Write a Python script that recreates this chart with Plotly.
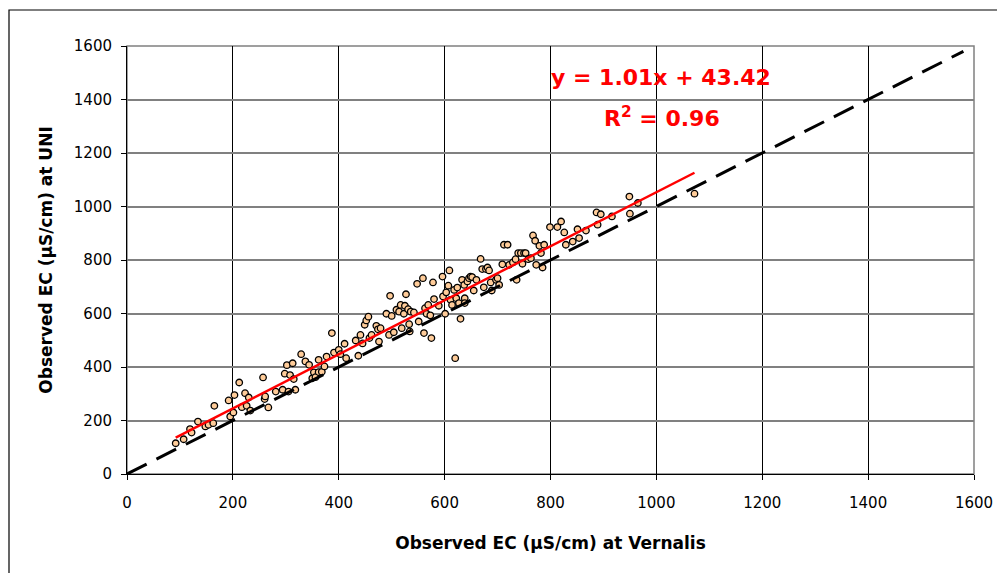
import plotly.graph_objects as go

# Observed EC at Vernalis (x) vs. UNI (y), µS/cm
ec_vernalis = [92,107,119,122,134,148,154,163,165,192,
               195,201,203,212,217,223,226,230,233,257,
               260,261,267,281,294,298,302,305,308,313,
               315,318,329,337,344,350,353,356,362,362,
               368,373,377,387,391,400,403,411,414,432,
               437,441,445,449,452,456,458,462,471,474,
               476,479,490,495,497,500,504,509,514,517,
               519,523,525,527,531,533,534,536,542,548,
               551,559,561,563,566,569,573,575,578,580,
               589,596,597,601,603,607,609,611,614,618,
               620,622,624,627,630,633,637,638,638,643,
               646,649,652,655,660,668,671,674,678,681,
               684,687,689,697,700,703,709,712,719,722,
               729,734,736,739,744,747,750,753,758,763,
               767,771,773,779,782,785,788,799,813,820,
               826,829,842,851,854,867,887,889,895,916,
               949,950,965,1072]
ec_uni = [115,130,168,155,196,178,184,190,255,275,
          215,230,295,342,250,302,255,286,237,361,
          280,290,249,308,315,375,407,308,370,414,
          355,315,448,421,408,358,380,362,427,381,
          382,402,439,527,454,464,448,487,433,499,
          442,520,488,558,574,588,508,520,554,541,
          495,545,599,520,666,591,530,614,607,632,
          545,599,629,672,616,560,533,607,604,711,
          570,732,527,620,599,632,593,508,716,654,
          629,738,664,599,679,704,761,651,632,688,
          433,657,697,639,580,726,707,657,639,720,
          732,738,736,686,726,804,766,698,766,772,
          761,716,686,726,732,707,784,857,857,782,
          791,803,726,826,826,786,826,826,803,807,
          892,872,782,853,826,772,857,923,923,944,
          903,857,869,915,882,910,978,932,971,963,
          1037,973,1013,1048]

# Linear trend (as reported on chart)
trend_slope = 1.01
trend_intercept = 43.42
trend_r2 = 0.96

# 1:1 reference line extent
one_to_one = [0, 1580]

tick_vals = [0, 200, 400, 600, 800, 1000, 1200, 1400, 1600]

x_min, x_max = min(ec_vernalis), max(ec_vernalis)
trend_x = [x_min, x_max]
trend_y = [trend_slope * v + trend_intercept for v in trend_x]

FONT = "DejaVu Sans, Verdana, sans-serif"

# page body has an 8px default margin; the figure is sized to fit the window
PX0, PY0 = 127, 474      # plot-area origin in window pixels
PW, PH = 847, 428        # plot-area size


def px(xp):
    return (xp - PX0) / PW


def py(yp):
    return (PY0 - yp) / PH


fig = go.Figure()
fig.add_trace(go.Scatter(
    x=ec_vernalis, y=ec_uni, mode="markers",
    marker=dict(size=6.5, color="#FFCC99", line=dict(color="black", width=1.3)),
    showlegend=False, cliponaxis=False))
fig.add_trace(go.Scatter(
    x=one_to_one, y=one_to_one, mode="lines",
    line=dict(color="black", width=3, dash="22px,11px"),
    showlegend=False))
fig.add_trace(go.Scatter(
    x=trend_x, y=trend_y, mode="lines",
    line=dict(color="#FF0000", width=2.5),
    showlegend=False))

axis_common = dict(
    range=[0, 1600], tickvals=tick_vals, ticks="outside", ticklen=5,
    tickcolor="black", tickwidth=1, showline=True, linecolor="black",
    linewidth=1, zeroline=False,
    tickfont=dict(family=FONT, size=15, color="black"),
)

fig.update_layout(
    width=997, height=565,
    margin=dict(l=119, r=31, t=38, b=99),
    paper_bgcolor="white", plot_bgcolor="white",
    xaxis=dict(**axis_common, showgrid=True, gridcolor="black", gridwidth=1,
               ticklabelstandoff=10,
               title=dict(text="<b>Observed EC (µS/cm) at Vernalis</b>",
                          font=dict(family=FONT, size=17, color="black"),
                          standoff=26)),
    yaxis=dict(**axis_common, showgrid=True, gridcolor="#808080", gridwidth=1.5,
               ticklabelstandoff=6,
               title=dict(text="<b>Observed EC (µS/cm) at UNI</b>",
                          font=dict(family=FONT, size=17, color="black"),
                          standoff=16)),
    shapes=[
        # plot-area border (gray)
        dict(type="rect", xref="paper", yref="paper", x0=0, y0=0, x1=1, y1=1,
             line=dict(color="#808080", width=1.5), layer="below"),
        # outer chart border
        dict(type="rect", xref="paper", yref="paper",
             x0=px(9), x1=px(1012), y0=py(590), y1=py(10),
             line=dict(color="black", width=1.2)),
    ],
    annotations=[
        dict(text=f"<b>y = {trend_slope:.2f}x + {trend_intercept:.2f}</b>",
             x=px(661), y=py(77), xref="paper", yref="paper",
             xanchor="center", yanchor="middle",
             showarrow=False, font=dict(family=FONT, size=22, color="#FF0000")),
        dict(text=f"<b>R<sup>2</sup> = {trend_r2:.2f}</b>",
             x=px(662), y=py(117), xref="paper", yref="paper",
             xanchor="center", yanchor="middle",
             showarrow=False, font=dict(family=FONT, size=22, color="#FF0000")),
    ],
)

fig.write_html("out.html")
